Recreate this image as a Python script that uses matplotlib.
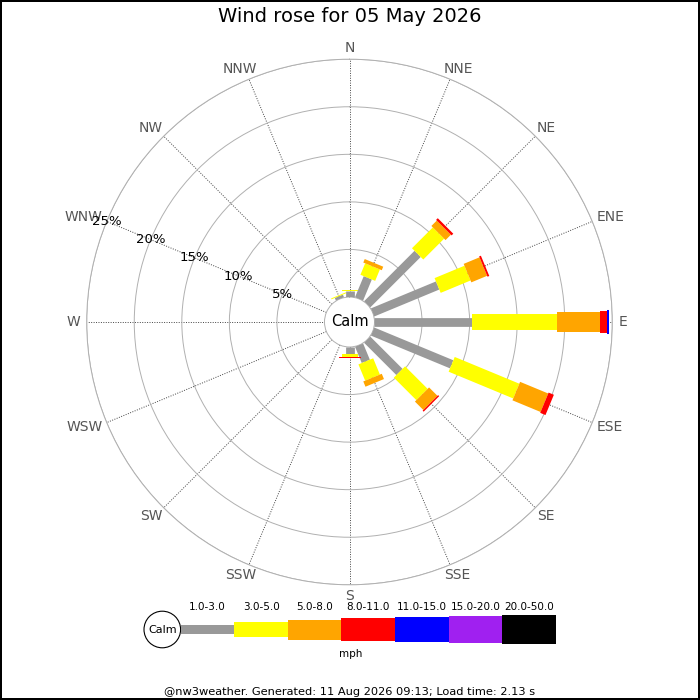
import numpy as np
import matplotlib
matplotlib.use('Agg')
import matplotlib.pyplot as plt
from matplotlib.patches import Circle

# 16 compass directions, clockwise from N
dirs = ['N', 'NNE', 'NE', 'ENE', 'E', 'ESE', 'SE', 'SSE',
        'S', 'SSW', 'SW', 'WSW', 'W', 'WNW', 'NW', 'NNW']

# % of time in each speed band per direction
spd_1_3   = [0.6, 2.4, 7.5, 7.4, 10.2, 9.0, 4.8, 1.85, 0.7, 0, 0, 0, 0, 0, 0, 0.3]
spd_3_5   = [0.1, 1.3, 3.1, 3.4, 9.0, 7.35, 3.35, 1.85, 0.35, 0, 0, 0, 0, 0, 0, 0.1]
spd_5_8   = [0, 0.4, 0.8, 1.8, 4.5, 3.2, 1.25, 0.6, 0, 0, 0, 0, 0, 0, 0, 0]
spd_8_11  = [0, 0, 0.25, 0.2, 0.75, 0.6, 0.15, 0, 0.1, 0, 0, 0, 0, 0, 0, 0]
spd_11_15 = [0, 0, 0, 0, 0.25, 0, 0, 0, 0, 0, 0, 0, 0, 0, 0, 0]
spd_15_20 = [0] * 16
spd_20_50 = [0] * 16

bands = ['1.0-3.0', '3.0-5.0', '5.0-8.0', '8.0-11.0', '11.0-15.0', '15.0-20.0', '20.0-50.0']
band_vals = [spd_1_3, spd_3_5, spd_5_8, spd_8_11, spd_11_15, spd_15_20, spd_20_50]
band_cols = ['#999999', '#ffff00', '#ffa500', '#ff0000', '#0000ff', '#a020f0', '#000000']
band_w = [6.3, 11.5, 14.4, 15.8, 17.3, 18.7, 20.0]   # line width in pt
leg_h = [8.3, 15, 20, 23, 25, 27, 29]                 # legend bar height in px

rings = [5, 10, 15, 20, 25]

fig = plt.figure(figsize=(7, 7), dpi=100)
fig.patch.set_facecolor('white')
fig.patch.set_edgecolor('black')
fig.patch.set_linewidth(1.5)

# legend / footer layer in pixel coordinates
axl = fig.add_axes([0, 0, 1, 1])
axl.set_xlim(0, 700)
axl.set_ylim(700, 0)
axl.axis('off')

cx, cy, R = 349.5, 322, 262.8
ax = fig.add_axes([(cx - R) / 700, (700 - cy - R) / 700, 2 * R / 700, 2 * R / 700],
                  projection='polar')
ax.set_theta_zero_location('N')
ax.set_theta_direction(-1)
ax.set_ylim(0, 25)
ax.set_rorigin(-2.628)

theta = np.deg2rad(np.arange(16) * 22.5)
ax.set_xticks(theta)
ax.set_xticklabels([])
ax.set_yticks(rings)
ax.set_yticklabels([])
ax.xaxis.grid(True, color='#444444', linestyle=(0, (1, 1.5)), linewidth=0.7)
ax.yaxis.grid(True, color='#b0b0b0', linestyle='-', linewidth=0.7)
ax.spines['polar'].set_color('#b0b0b0')
ax.spines['polar'].set_linewidth(0.7)
ax.spines['inner'].set_color('#b0b0b0')
ax.spines['inner'].set_linewidth(0.7)

# stacked bars, widening with speed band
for i, th in enumerate(theta):
    r0 = 0
    for vals, col, w in zip(band_vals, band_cols, band_w):
        v = vals[i]
        if v > 0:
            ax.plot([th, th], [r0, r0 + v], color=col, lw=w, solid_capstyle='butt', zorder=3)
        r0 += v

# direction labels: text box just touching a circle outside the rim
r_lab = 25.65
dir_txt = []
for th, lab in zip(theta, dirs):
    t = ax.annotate(lab, xy=(th, r_lab), xytext=(0, 0), textcoords='offset pixels',
                    ha='center', va='center', color='#555555', fontsize=10,
                    annotation_clip=False)
    dir_txt.append((t, th))
fig.canvas.draw()
for t, th in dir_txt:
    bb = t.get_window_extent()
    t.xyann = (bb.width / 2 * np.sin(th), 5 * np.cos(th))

# percentage labels along WNW
for r in rings:
    ax.text(np.deg2rad(292.5), r, f'{r}%', ha='center', va='center', fontsize=9.5, zorder=4)

fig.text(cx / 700, 1 - cy / 700, 'Calm', ha='center', va='center', fontsize=10.5)

fig.text(0.5, 1 - 17 / 700, 'Wind rose for 05 May 2026', ha='center', va='center', fontsize=14)

# legend
axl.add_patch(Circle((162.3, 629.5), 18.3, facecolor='white', edgecolor='black', lw=0.8))
axl.text(162.3, 630, 'Calm', ha='center', va='center', fontsize=8)
x0, seg = 180.7, 53.6
centers = [x0 + seg * (k + 0.5) for k in range(len(bands))]
axl.bar(centers, leg_h, width=seg, bottom=[629.5 - h / 2 for h in leg_h], color=band_cols)
for xc, lab in zip(centers, bands):
    axl.text(xc, 607, lab, ha='center', va='center', fontsize=7.5)
axl.text(350.5, 654, 'mph', ha='center', va='center', fontsize=7.5)

axl.text(350, 692, '@nw3weather. Generated: 11 Aug 2026 09:13; Load time: 2.13 s',
         ha='center', va='center', fontsize=8.2)

fig.savefig('out.png', dpi=100)
